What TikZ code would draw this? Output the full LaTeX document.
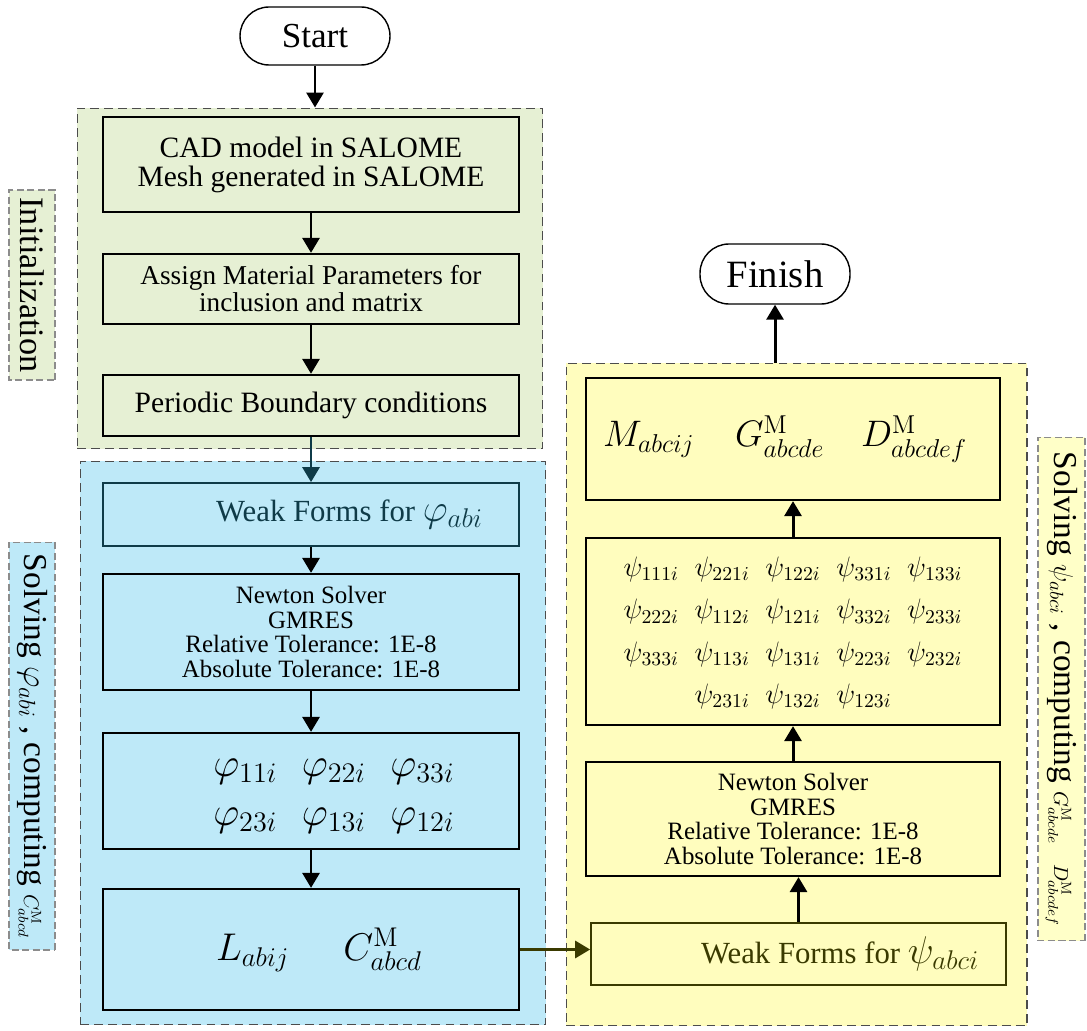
\RequirePackage{fix-cm}
\documentclass[tikz,border=0pt]{standalone}
\usepackage[no-math]{fontspec}
\setmainfont{Liberation Serif}
\usepackage{amsmath}
\usepackage{xcolor}
\usetikzlibrary{positioning, arrows.meta, calc}

\definecolor{initgreen}{HTML}{E6F0D4}
\definecolor{phiblue}{HTML}{BEE9F8}
\definecolor{psiyellow}{HTML}{FFFDBE}
\definecolor{tagyellow}{HTML}{FFFFC8}
\definecolor{tealdark}{HTML}{0F3B48}
\definecolor{olivedark}{HTML}{3A3A00}

\begin{document}
\begin{tikzpicture}[
			x=0.02cm, y=-0.02cm,
			stage/.style={
				draw=black!70,
				dash pattern=on 5pt off 3pt,
				line width=0.6pt,
				inner sep=0pt
			},
			sidetag/.style={
				draw=black!45,
				dash pattern=on 4pt off 2pt,
				line width=0.6pt,
				rotate=-90,
				inner sep=0pt,
				font=\fontsize{19}{22}\selectfont
			},
			procbox/.style={
				draw=black,
				line width=1.3pt,
				minimum width=8.32cm,
				align=center,
				inner sep=0pt
			},
			terminal/.style={
				draw=black,
				rounded corners=0.58cm,
				minimum width=3cm,
				minimum height=1.16cm,
				line width=0.8pt,
				fill=white,
				font=\fontsize{20}{22}\selectfont
			},
			flow/.style={
				-{Triangle[length=0.3cm,width=0.34cm]},
				line width=1.7pt
			}
			]
			\useasboundingbox (0,0) rectangle (1087,1030);
			% Stages
			\node[stage, fill=initgreen, minimum width=9.32cm, minimum height=6.82cm] (init) at (310,278.5) {};
			\node[stage, fill=phiblue, minimum width=9.32cm, minimum height=11.28cm] (solvephi) at (313,743) {};
			\node[stage, fill=psiyellow, minimum width=9.22cm, minimum height=13.26cm] (solvepsi) at (796.5,694.5) {};
			% Side tags
			\node[sidetag, fill=initgreen, minimum width=3.8cm, minimum height=0.92cm, font=\fontsize{19.5}{21}\selectfont] (inittag) at (32,285) {Initialization};
			\node[sidetag, fill=phiblue, minimum width=8.16cm, minimum height=0.92cm] (phitag) at (32,746)
				{Solving $\varphi_{abi}$ , computing {\fontsize{12}{14}\selectfont$C^{\mathrm{M}}_{abcd}$}};
			\node[sidetag, fill=tagyellow, minimum width=10.08cm, minimum height=0.94cm] (psitag) at (1061.5,689)
				{Solving {\fontsize{15.5}{17}\selectfont$\psi_{abci}$} , computing {\fontsize{11.5}{13}\selectfont$G^{\mathrm{M}}_{abcde}$\quad$D^{\mathrm{M}}_{abcdef}$}};
			% Terminals
			\node[terminal] (start) at (315,36) {Start};
			\node[terminal, minimum height=1.2cm, font=\fontsize{22}{24}\selectfont] (finish) at (775,274) {Finish};
			% Left column
			\node[procbox, minimum height=1.9cm, font=\fontsize{16.8}{16.5}\selectfont] (cad) at (311,164.5)
				{CAD model in SALOME\\Mesh generated in SALOME};
			\node[procbox, minimum height=1.4cm, font=\fontsize{15.5}{15.4}\selectfont] (assign) at (311,289)
				{Assign Material Parameters for\\inclusion and matrix};
			\node[procbox, minimum height=1.22cm, font=\fontsize{16.8}{18}\selectfont] (pbc) at (311,405.5)
				{Periodic Boundary conditions};
			\node[procbox, draw=tealdark, text=tealdark, line width=1pt, minimum height=1.26cm, font=\fontsize{17.5}{20}\selectfont] (weakphi) at (311,514.5)
				{\hspace*{2.5em}Weak Forms for {\fontsize{22}{24}\selectfont$\varphi_{abi}$}};
			\node[procbox, minimum height=2.32cm, font=\fontsize{14.2}{14.2}\selectfont] (newtonphi) at (311,632)
				{Newton Solver\\GMRES\\Relative Tolerance: 1E-8\\Absolute Tolerance: 1E-8};
			\node[procbox, minimum height=2.32cm, font=\fontsize{23}{28}\selectfont] (phiset) at (311,791)
				{\hspace*{26pt}\setlength{\tabcolsep}{7pt}\begin{tabular}{ccc}
					$\varphi_{11i}$ & $\varphi_{22i}$ & $\varphi_{33i}$\\
					$\varphi_{23i}$ & $\varphi_{13i}$ & $\varphi_{12i}$
				\end{tabular}};
			\node[procbox, minimum height=2.42cm, font=\fontsize{22}{25}\selectfont] (lcm) at (311,949.5)
				{\hspace*{9pt}$L_{abij}$\hspace{1.4em}$C^{\mathrm{M}}_{abcd}$};
			% Right column
			\node[procbox, minimum width=8.28cm, minimum height=2.44cm, font=\fontsize{21}{25}\selectfont] (mgd) at (793,439)
				{$M_{abcij}$\hspace{1.1em}$G^{\mathrm{M}}_{abcde}$\hspace{1em}$D^{\mathrm{M}}_{abcdef}$\hspace*{9pt}};
			\node[procbox, minimum width=8.28cm, minimum height=3.74cm, font=\fontsize{16}{24}\selectfont] (psiset) at (793,631.5)
				{\setlength{\tabcolsep}{4.5pt}\begin{tabular}{ccccc}
					$\psi_{111i}$ & $\psi_{221i}$ & $\psi_{122i}$ & $\psi_{331i}$ & $\psi_{133i}$\\
					$\psi_{222i}$ & $\psi_{112i}$ & $\psi_{121i}$ & $\psi_{332i}$ & $\psi_{233i}$\\
					$\psi_{333i}$ & $\psi_{113i}$ & $\psi_{131i}$ & $\psi_{223i}$ & $\psi_{232i}$\\
					& $\psi_{231i}$ & $\psi_{132i}$ & $\psi_{123i}$ &
				\end{tabular}};
			\node[procbox, minimum width=8.28cm, minimum height=2.28cm, font=\fontsize{14.2}{14.2}\selectfont] (newtonpsi) at (793,819)
				{Newton Solver\\GMRES\\Relative Tolerance: 1E-8\\Absolute Tolerance: 1E-8};
			\node[procbox, draw=olivedark, text=olivedark, line width=1pt, minimum width=8.3cm, minimum height=1.24cm, font=\fontsize{17.5}{20}\selectfont] (weakpsi) at (798.5,954)
				{\hspace*{2.7em}Weak Forms for {\fontsize{22}{24}\selectfont$\psi_{abci}$}};
			% Connectors
			\draw[flow] (start.south) -- (start.south |- init.north);
			\draw[flow] (cad) -- (assign);
			\draw[flow] (assign) -- (pbc);
			\draw[flow, tealdark] (pbc) -- (weakphi);
			\draw[flow] (weakphi) -- (newtonphi);
			\draw[flow] (newtonphi) -- (phiset);
			\draw[flow] (phiset) -- (lcm);
			\draw[flow, olivedark] (lcm.east) -- (lcm.east -| weakpsi.west);
			\draw[flow] (weakpsi.north) -- (weakpsi.north |- newtonpsi.south);
			\draw[flow] (newtonpsi) -- (psiset);
			\draw[flow] (psiset) -- (mgd);
			\draw[flow] (solvepsi.north -| finish.south) -- (finish.south);
		\end{tikzpicture}
\end{document}
